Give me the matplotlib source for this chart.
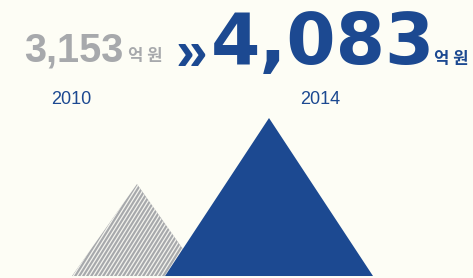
import matplotlib
matplotlib.use('Agg')
import matplotlib.pyplot as plt
from matplotlib.patches import Polygon
from matplotlib.collections import LineCollection
from matplotlib.transforms import IdentityTransform
import numpy as np

# ---- data ----
years = ['2010', '2014']
values = [3153, 4083]
value_labels = ['3,153', '4,083']
unit = '억 원'

# ---- style ----
BG = '#fdfdf5'
GRAY = '#a7a9ac'
BLUE = '#1c4991'
W, H = 473, 278

fig = plt.figure(figsize=(W / 100, H / 100), dpi=100, facecolor=BG)

# mountains: x in pixels, y in value units (axis floor below zero-height)
ax = fig.add_axes([0, 0, 1, 1])
ax.axis('off')
ax.set_facecolor('none')
ax.set_xlim(0, W)
y_floor = 1857
ax.set_ylim(1829, 5746)

centers = [137, 269]
half_widths = [65, 104]
styles = [dict(facecolor=GRAY, zorder=1), dict(facecolor=BLUE, zorder=3)]

patches = []
for c, hw, v, st in zip(centers, half_widths, values, styles):
    p = Polygon([[c - hw, y_floor], [c, v], [c + hw, y_floor]], closed=True,
                edgecolor='none', **st)
    ax.add_patch(p)
    patches.append(p)

# hatch stripes on the 2010 mountain (drawn in pixel space, clipped)
slope = np.tan(np.radians(58))
segs = [[(x0, 0), (x0 + 120 / slope, 120)] for x0 in np.arange(0, 260, 4.0)]
lc = LineCollection(segs, colors='#f4f4ee', linewidths=0.9,
                    transform=IdentityTransform(), zorder=2)
ax.add_collection(lc)
lc.set_clip_path(patches[0])

# ---- texts (pixel coordinates, origin top-left) ----
tx = fig.add_axes([0, 0, 1, 1])
tx.axis('off')
tx.set_facecolor('none')
tx.set_xlim(0, W)
tx.set_ylim(H, 0)

tx.text(24, 61, value_labels[0], fontsize=28.5, fontweight='bold',
        family='Liberation Sans', color=GRAY, va='baseline', ha='left')
tx.text(128, 61, unit, fontsize=12, fontweight='bold',
        family=['Noto Sans CJK KR'], color=GRAY, va='baseline', ha='left')
tx.text(175, 70, '»', fontsize=41, fontweight='bold',
        family='Liberation Sans', color=BLUE, va='baseline', ha='left')
tx.text(211, 64, value_labels[1], fontsize=51, fontweight='bold',
        family='DejaVu Sans', color=BLUE, va='baseline', ha='left')
tx.text(434, 64, unit, fontsize=12, fontweight='bold',
        family=['Noto Sans CJK KR'], color=BLUE, va='baseline', ha='left')
tx.text(51, 104, years[0], fontsize=13, family='Liberation Sans',
        color=BLUE, va='baseline', ha='left')
tx.text(300, 104, years[1], fontsize=13, family='Liberation Sans',
        color=BLUE, va='baseline', ha='left')

fig.savefig('out.png', dpi=100, facecolor=BG)
